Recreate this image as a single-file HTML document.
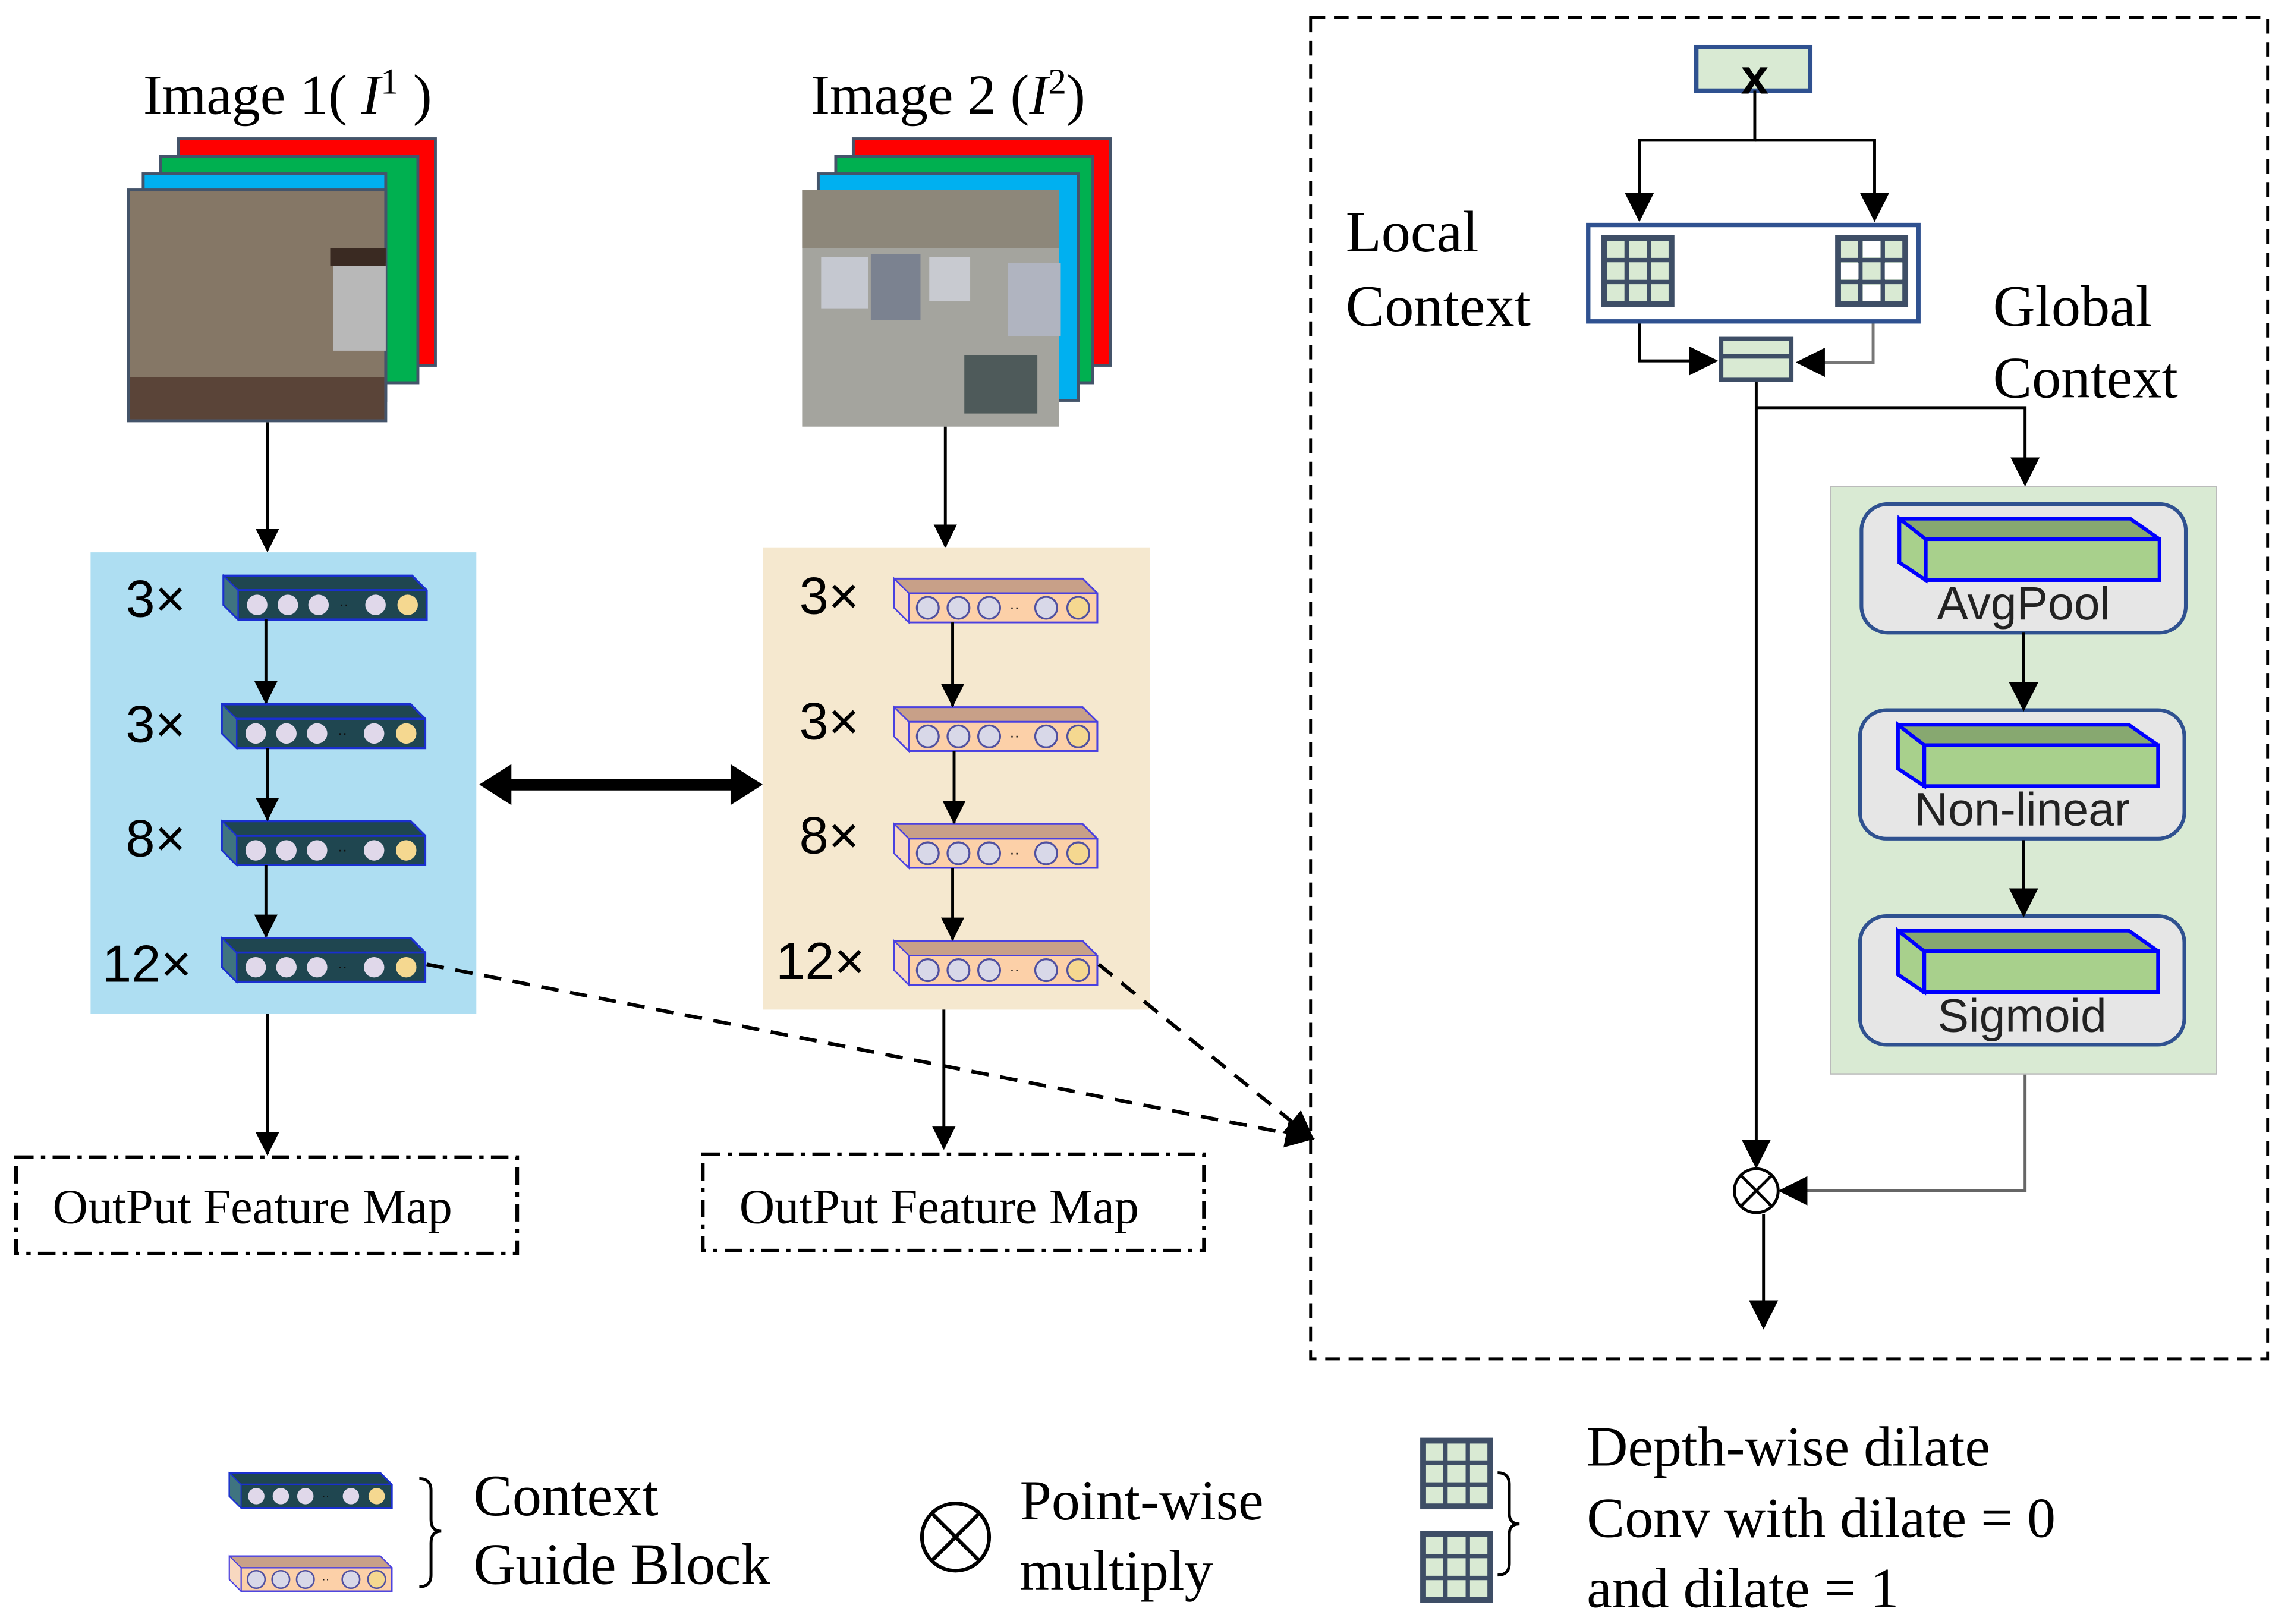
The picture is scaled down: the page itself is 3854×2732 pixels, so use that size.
<!DOCTYPE html>
<html><head><meta charset="utf-8"><style>html,body{margin:0;padding:0;background:#fff}svg{display:block}</style></head><body>
<svg width="3854" height="2732" viewBox="0 0 1568 1111.5" xmlns="http://www.w3.org/2000/svg">
<defs>
<marker id="a" viewBox="0 0 16 16" markerWidth="16" markerHeight="16" refX="15" refY="8" orient="auto" markerUnits="userSpaceOnUse"><path d="M0,0 L16,8 L0,16 z" fill="#000"/></marker>
<marker id="b" viewBox="0 0 20 20" markerWidth="20" markerHeight="20" refX="18" refY="10" orient="auto" markerUnits="userSpaceOnUse"><path d="M0,0 L20,10 L0,20 z" fill="#000"/></marker>
<g id="db">
<path d="M0,0 L129,0 L139,10 L139,30 L10,30 L0,20 z" fill="#1f4650" stroke="#1a2fd0" stroke-width="1.5"/>
<path d="M0,0 L10,10 L10,30 L0,20 z" fill="#3f7480" stroke="#1a2fd0" stroke-width="1"/>
<line x1="10" y1="10" x2="139" y2="10" stroke="#1a2fd0" stroke-width="1.5"/>
<circle cx="23" cy="20" r="7" fill="#e0d8ea"/><circle cx="44" cy="20" r="7" fill="#e0d8ea"/><circle cx="65" cy="20" r="7" fill="#e0d8ea"/>
<text x="79" y="23" font-size="10" fill="#111" font-family="Liberation Sans">··</text>
<circle cx="104" cy="20" r="7" fill="#e0d8ea"/><circle cx="126" cy="20" r="7" fill="#f5d890"/>
</g>
<g id="lb">
<path d="M0,0 L129,0 L139,10 L139,30 L10,30 L0,20 z" fill="#c8a088" stroke="#4a40e0" stroke-width="1.2"/>
<path d="M10,10 L139,10 L139,30 L10,30 z" fill="#fcd0a8" stroke="#4a40e0" stroke-width="1.2"/>
<path d="M0,0 L10,10 L10,30 L0,20 z" fill="#f8d8c0" stroke="#4a40e0" stroke-width="1"/>
<g fill="#d8d8e8" stroke="#5050a0" stroke-width="1.3">
<circle cx="23" cy="20" r="7.5"/><circle cx="44" cy="20" r="7.5"/><circle cx="65" cy="20" r="7.5"/><circle cx="104" cy="20" r="7.5"/></g>
<circle cx="126" cy="20" r="7.5" fill="#f5d890" stroke="#5050a0" stroke-width="1.3"/>
<text x="79" y="23" font-size="10" fill="#111" font-family="Liberation Sans">··</text>
</g>
<g id="gb">
<rect x="0" y="0" width="222" height="88" rx="18" fill="#e6e6e6" stroke="#2f5190" stroke-width="2.5"/>
<path d="M26,10 L184,10 L204,24 L204,52 L44,52 L26,40 z" fill="#87a870" stroke="#0000ff" stroke-width="2.5"/>
<rect x="44" y="24" width="160" height="28" fill="#a8d08c" stroke="#0000ff" stroke-width="2.5"/>
<path d="M26,10 L44,24 L44,52 L26,40 z" fill="#a8d08c" stroke="#0000ff" stroke-width="2.5"/>
</g>
<g id="grid">
<rect x="0" y="0" width="46" height="45" fill="#d9ead3" stroke="#3e4e66" stroke-width="4"/>
<line x1="15.3" y1="0" x2="15.3" y2="45" stroke="#3e4e66" stroke-width="3"/><line x1="30.6" y1="0" x2="30.6" y2="45" stroke="#3e4e66" stroke-width="3"/>
<line x1="0" y1="15" x2="46" y2="15" stroke="#3e4e66" stroke-width="3"/><line x1="0" y1="30" x2="46" y2="30" stroke="#3e4e66" stroke-width="3"/>
</g>
</defs>
<g font-family="Liberation Serif, serif">
<text x="98" y="78" font-size="39">Image 1( <tspan font-style="italic">I</tspan><tspan font-size="25" dy="-14">1</tspan><tspan dy="14"> )</tspan></text>
<rect x="122" y="95" width="176" height="155" fill="#ff0000" stroke="#44546a" stroke-width="2"/>
<rect x="110" y="107" width="176" height="155" fill="#00b050" stroke="#44546a" stroke-width="2"/>
<rect x="98" y="119" width="166" height="155" fill="#00b0f0" stroke="#44546a" stroke-width="2"/>
<rect x="88" y="130" width="176" height="158" fill="#857766" stroke="#44546a" stroke-width="2"/>
<rect x="89" y="258" width="174" height="29" fill="#5a4438"/>
<rect x="228" y="180" width="36" height="60" fill="#b8b8b8"/><rect x="226" y="170" width="38" height="12" fill="#3a2a22"/>
<text x="555" y="78" font-size="39">Image 2 (<tspan font-style="italic">I</tspan><tspan font-size="25" dy="-14">2</tspan><tspan dy="14">)</tspan></text>
<rect x="584" y="95" width="176" height="155" fill="#ff0000" stroke="#44546a" stroke-width="2"/>
<rect x="572" y="107" width="176" height="155" fill="#00b050" stroke="#44546a" stroke-width="2"/>
<rect x="560" y="119" width="178" height="155" fill="#00b0f0" stroke="#44546a" stroke-width="2"/>
<rect x="549" y="130" width="176" height="162" fill="#a4a49e"/>
<rect x="549" y="130" width="176" height="40" fill="#8d877a"/>
<rect x="562" y="176" width="32" height="35" fill="#c5c8d0"/><rect x="596" y="174" width="34" height="45" fill="#7b8290"/><rect x="636" y="176" width="28" height="30" fill="#c8cad0"/><rect x="690" y="180" width="36" height="50" fill="#b0b4c0"/><rect x="660" y="243" width="50" height="40" fill="#4e5a5a"/>
<line x1="183" y1="289" x2="183" y2="377" stroke="#000" stroke-width="2" marker-end="url(#a)"/>
<line x1="647" y1="292" x2="647" y2="374" stroke="#000" stroke-width="2" marker-end="url(#a)"/>
<rect x="62" y="378" width="264" height="316" fill="#aedef2"/>
<rect x="522" y="375" width="265" height="316" fill="#f5e8cf"/>
<g font-family="Liberation Sans, sans-serif" font-size="36">
<text x="86" y="422">3×</text><text x="86" y="508">3×</text><text x="86" y="586">8×</text><text x="70" y="672">12×</text>
<text x="547" y="420">3×</text><text x="547" y="506">3×</text><text x="547" y="584">8×</text><text x="531" y="670">12×</text>
</g>
<use href="#db" x="153" y="394"/><use href="#db" x="152" y="482"/><use href="#db" x="152" y="562"/><use href="#db" x="152" y="642"/>
<use href="#lb" x="612" y="396"/><use href="#lb" x="612" y="484"/><use href="#lb" x="612" y="564"/><use href="#lb" x="612" y="644"/>
<g stroke="#000" stroke-width="2">
<line x1="182" y1="424" x2="182" y2="481" marker-end="url(#a)"/>
<line x1="183" y1="512" x2="183" y2="561" marker-end="url(#a)"/>
<line x1="182" y1="592" x2="182" y2="641" marker-end="url(#a)"/>
<line x1="652" y1="426" x2="652" y2="483" marker-end="url(#a)"/>
<line x1="653" y1="514" x2="653" y2="563" marker-end="url(#a)"/>
<line x1="652" y1="594" x2="652" y2="643" marker-end="url(#a)"/>
<line x1="183" y1="694" x2="183" y2="790" marker-end="url(#a)"/>
<line x1="646" y1="691" x2="646" y2="786" marker-end="url(#a)"/>
</g>
<line x1="345" y1="537" x2="505" y2="537" stroke="#000" stroke-width="8"/>
<path d="M328,537 L350,523 L350,551 z" fill="#000"/><path d="M522,537 L500,523 L500,551 z" fill="#000"/>
<line x1="292" y1="660" x2="898" y2="779" stroke="#000" stroke-width="2.5" stroke-dasharray="12,8" marker-end="url(#b)"/>
<line x1="752" y1="660" x2="898" y2="779" stroke="#000" stroke-width="2.5" stroke-dasharray="12,8" marker-end="url(#b)"/>
<rect x="11" y="792" width="343" height="66" fill="none" stroke="#000" stroke-width="2.5" stroke-dasharray="12,5,3,5"/>
<rect x="481" y="790" width="343" height="66" fill="none" stroke="#000" stroke-width="2.5" stroke-dasharray="12,5,3,5"/>
<text x="36" y="837" font-size="33.5">OutPut Feature Map</text>
<text x="506" y="837" font-size="33.5">OutPut Feature Map</text>
<rect x="897" y="12" width="655" height="918" fill="none" stroke="#000" stroke-width="2" stroke-dasharray="10,6"/>
<rect x="1161" y="32" width="78" height="30" fill="#d9ead3" stroke="#2f5190" stroke-width="3"/>
<text x="1201" y="64" font-size="34" font-family="Liberation Sans, sans-serif" font-weight="bold" text-anchor="middle">x</text>
<g stroke="#000" stroke-width="2" fill="none">
<polyline points="1201,62 1201,96 1122,96 1122,150" marker-end="url(#b)"/>
<polyline points="1201,96 1283,96 1283,150" marker-end="url(#b)"/>
<polyline points="1122,220 1122,247 1174,247" marker-end="url(#b)"/>
<polyline points="1282,220 1282,248 1231,248" stroke="#777" marker-end="url(#b)"/>
<line x1="1202" y1="260" x2="1202" y2="798" marker-end="url(#b)"/>
<polyline points="1202,279 1386,279 1386,331" marker-end="url(#b)"/>
<polyline points="1386,735 1386,815 1219,815" stroke="#666" marker-end="url(#b)"/>
<line x1="1207" y1="831" x2="1207" y2="908" marker-end="url(#b)"/>
</g>
<rect x="1087" y="154" width="226" height="66" fill="#fff" stroke="#2f5190" stroke-width="3"/>
<use href="#grid" x="1098" y="163"/>
<g transform="translate(1258,163)"><use href="#grid"/><rect x="17" y="2" width="12" height="11" fill="#fff"/><rect x="2" y="17" width="12" height="11" fill="#fff"/><rect x="32" y="17" width="12" height="11" fill="#fff"/><rect x="17" y="32" width="12" height="11" fill="#fff"/></g>
<rect x="1178" y="232" width="48" height="28" fill="#d9ead3" stroke="#3e4e66" stroke-width="3"/>
<line x1="1178" y1="244" x2="1226" y2="244" stroke="#3e4e66" stroke-width="3"/>
<text x="921" y="172" font-size="40">Local</text><text x="921" y="223" font-size="40">Context</text>
<text x="1364" y="223" font-size="40">Global</text><text x="1364" y="272" font-size="40">Context</text>
<rect x="1253" y="333" width="264" height="402" fill="#d9ead3" stroke="#bbb" stroke-width="1"/>
<use href="#gb" x="1274" y="345"/><use href="#gb" x="1273" y="486"/><use href="#gb" x="1273" y="627"/>
<g font-family="Liberation Sans, DejaVu Sans, sans-serif" font-size="32" text-anchor="middle" fill="#222">
<text x="1385" y="424">AvgPool</text><text x="1384" y="565">Non-linear</text><text x="1384" y="706">Sigmoid</text>
</g>
<g stroke="#000" stroke-width="2"><line x1="1385" y1="433" x2="1385" y2="485" marker-end="url(#b)"/><line x1="1385" y1="575" x2="1385" y2="626" marker-end="url(#b)"/></g>
<circle cx="1202" cy="815" r="15" fill="#fff" stroke="#000" stroke-width="2"/>
<line x1="1191" y1="804" x2="1213" y2="826" stroke="#000" stroke-width="2"/><line x1="1213" y1="804" x2="1191" y2="826" stroke="#000" stroke-width="2"/>
<use href="#db" x="157" y="1008" transform="translate(157,1008) scale(0.8) translate(-157,-1008)"/>
<use href="#lb" x="157" y="1065" transform="translate(157,1065) scale(0.8) translate(-157,-1065)"/>
<path d="M287,1012 Q295,1012 295,1020 L295,1040 Q295,1048 302,1048 Q295,1048 295,1056 L295,1078 Q295,1086 287,1086" fill="none" stroke="#000" stroke-width="2"/>
<text x="324" y="1037" font-size="40">Context</text><text x="324" y="1084" font-size="40">Guide Block</text>
<circle cx="654" cy="1052" r="23" fill="#fff" stroke="#000" stroke-width="2.5"/>
<line x1="638" y1="1036" x2="670" y2="1068" stroke="#000" stroke-width="2.5"/><line x1="670" y1="1036" x2="638" y2="1068" stroke="#000" stroke-width="2.5"/>
<text x="698" y="1040" font-size="39">Point-wise</text><text x="698" y="1088" font-size="39">multiply</text>
<use href="#grid" x="974" y="986"/><use href="#grid" x="974" y="1050"/>
<path d="M1025,1008 Q1033,1008 1033,1016 L1033,1036 Q1033,1043 1040,1043 Q1033,1043 1033,1050 L1033,1070 Q1033,1078 1025,1078" fill="none" stroke="#000" stroke-width="2"/>
<text x="1086" y="1003" font-size="39">Depth-wise dilate</text><text x="1086" y="1052" font-size="39">Conv with dilate = 0</text><text x="1086" y="1100" font-size="39">and dilate = 1</text>
</g>
</svg>
</body></html>
